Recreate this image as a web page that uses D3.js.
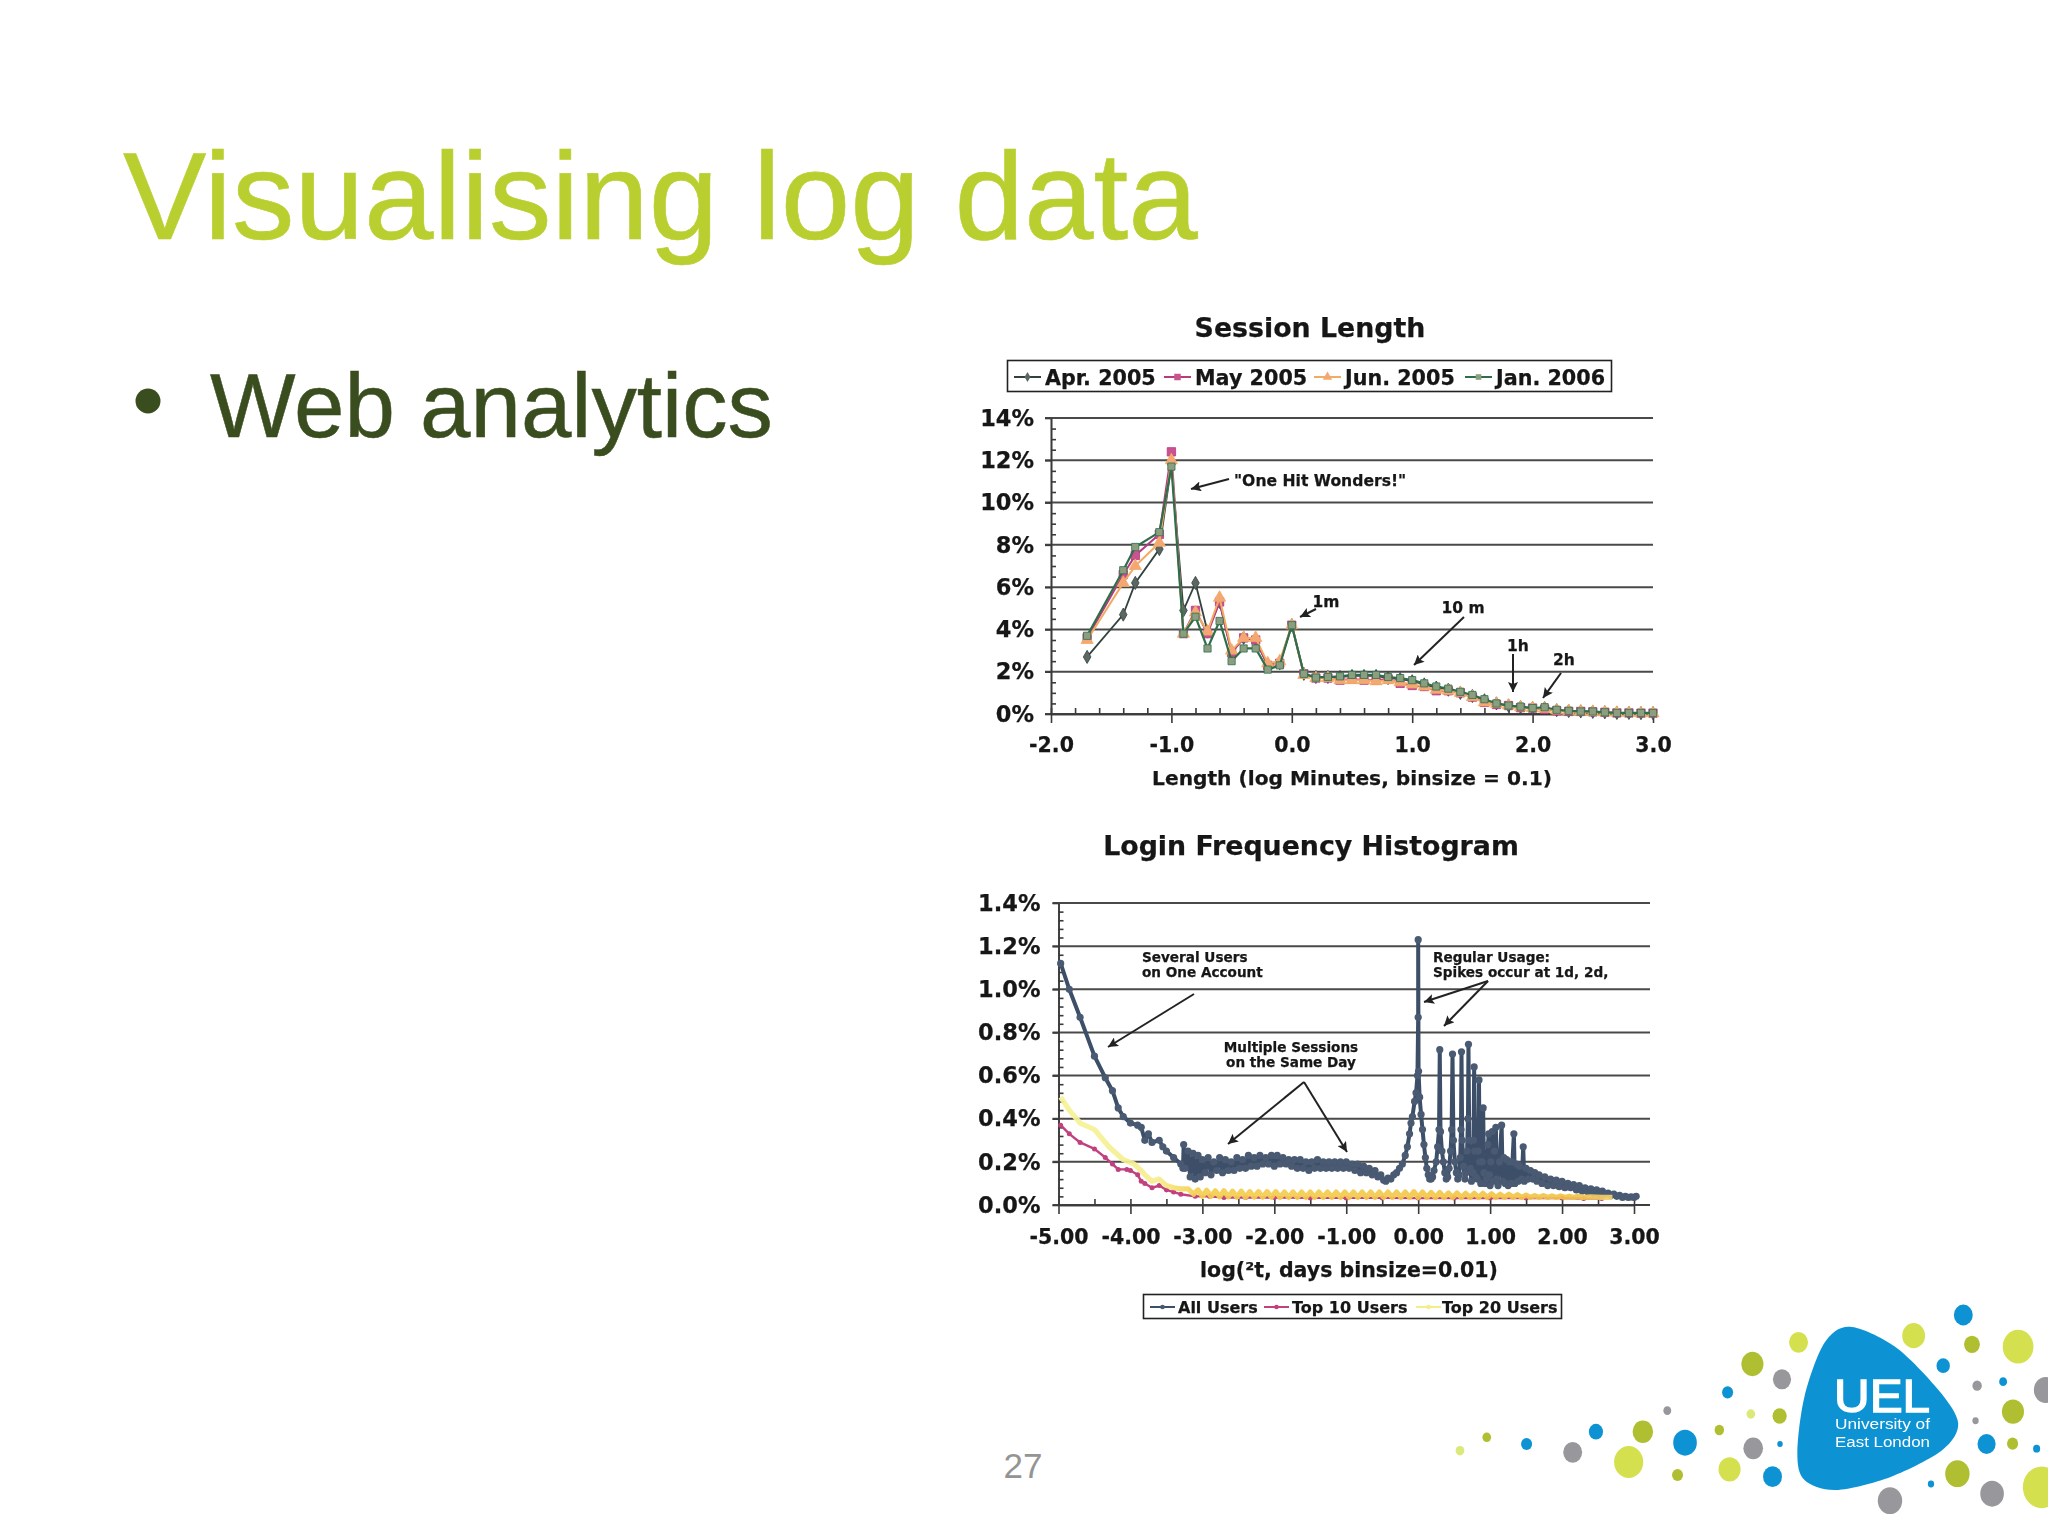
<!DOCTYPE html>
<html><head><meta charset="utf-8">
<script src="https://cdn.jsdelivr.net/npm/d3@7"></script>
<style>html,body{margin:0;padding:0;background:#fff}svg{display:block}</style>
</head><body>
<svg id="s" width="2048" height="1536"></svg>
<script>
// ---------- Session Length data ----------
const sessionBins=[-1.7,-1.4,-1.3,-1.1,-1.0,-0.9,-0.8,-0.7,-0.6,-0.5,-0.4,-0.3,-0.2,-0.1,0,0.1,0.2,0.3,0.4,0.5,0.6,0.7,0.8,0.9,1.0,1.1,1.2,1.3,1.4,1.5,1.6,1.7,1.8,1.9,2.0,2.1,2.2,2.3,2.4,2.5,2.6,2.7,2.8,2.9,3.0];
const apr2005=[2.7,4.7,6.2,7.8,11.8,4.9,6.2,3.9,5.3,2.9,3.6,3.5,2.3,2.4,4.2,1.9,1.75,1.75,1.75,1.8,1.8,1.8,1.7,1.65,1.55,1.4,1.25,1.15,1.0,.85,.65,.5,.4,.33,.28,.28,.18,.14,.12,.1,.08,.05,.05,.04,.04];
const may2005=[3.6,6.6,7.5,8.5,12.4,3.8,4.9,3.8,5.3,2.9,3.6,3.5,2.3,2.4,4.2,1.9,1.7,1.7,1.6,1.65,1.6,1.6,1.65,1.45,1.35,1.3,1.1,1.1,1.0,.8,.55,.45,.4,.3,.28,.22,.15,.12,.12,.1,.08,.05,.05,.04,.04];
const jun2005=[3.5,6.2,7.0,8.1,12.0,3.8,4.8,3.9,5.5,3.0,3.6,3.6,2.4,2.5,4.2,1.85,1.7,1.7,1.6,1.6,1.6,1.55,1.6,1.5,1.4,1.3,1.15,1.1,1.0,.8,.55,.48,.4,.32,.28,.25,.17,.14,.12,.1,.08,.06,.05,.04,.04];
const jan2006=[3.7,6.8,7.9,8.6,11.7,3.8,4.6,3.1,4.4,2.5,3.1,3.1,2.1,2.3,4.2,1.9,1.72,1.75,1.78,1.85,1.85,1.85,1.75,1.7,1.6,1.45,1.3,1.2,1.05,.9,.7,.5,.4,.35,.28,.32,.2,.15,.12,.12,.08,.05,.05,.05,.05];
const sessionYTicks=[0,2,4,6,8,10,12,14];
const sessionYMinor=[.5,1,1.5,2.5,3,3.5,4.5,5,5.5,6.5,7,7.5,8.5,9,9.5,10.5,11,11.5,12.5,13,13.5];
const sessionXTicks=[-2,-1,0,1,2,3];
const sessionXMinor=[-1.8,-1.6,-1.4,-1.2,-0.8,-0.6,-0.4,-0.2,0.2,0.4,0.6,0.8,1.2,1.4,1.6,1.8,2.2,2.4,2.6,2.8];
const sessionNames=["Apr. 2005","May 2005","Jun. 2005","Jan. 2006"];
// ---------- Login Frequency data ----------
const allUsers=[[-4.97,1.12],[-4.85,1.0],[-4.7,.87],[-4.5,.69],[-4.35,.59],[-4.25,.53],[-4.17,.45],[-4.1,.41],[-4.0,.38],[-3.9,.37],[-3.85,.36],[-3.8,.30],[-3.75,.33],[-3.7,.29],[-3.6,.30],[-3.55,.27],[-3.5,.25],[-3.4,.22],[-3.3,.19],[-3.27,.17],[-3.26,.28],[-3.24,.17],[-3.2,.25],[-3.17,.13],[-3.13,.24],[-3.1,.12],[-3.06,.23],[-3.03,.13],[-3.0,.21],[-2.96,.15],[-2.92,.22],[-2.88,.14],[-2.84,.20],[-2.8,.16],[-2.76,.22],[-2.72,.15],[-2.68,.21],[-2.64,.16],[-2.6,.20],[-2.56,.16],[-2.52,.22],[-2.48,.17],[-2.44,.21],[-2.4,.17],[-2.36,.23],[-2.32,.18],[-2.28,.22],[-2.24,.18],[-2.2,.23],[-2.16,.19],[-2.12,.22],[-2.08,.19],[-2.04,.23],[-2.0,.18],[-1.96,.23],[-1.92,.19],[-1.88,.22],[-1.84,.19],[-1.8,.21],[-1.76,.18],[-1.72,.21],[-1.68,.17],[-1.64,.21],[-1.6,.17],[-1.56,.20],[-1.52,.16],[-1.48,.20],[-1.44,.17],[-1.4,.21],[-1.36,.17],[-1.32,.20],[-1.28,.17],[-1.24,.20],[-1.2,.17],[-1.16,.20],[-1.12,.17],[-1.08,.20],[-1.04,.17],[-1.0,.20],[-.96,.17],[-.92,.19],[-.88,.16],[-.84,.19],[-.8,.15],[-.76,.18],[-.72,.15],[-.68,.17],[-.64,.14],[-.6,.16],[-.56,.13],[-.52,.14],[-.48,.115],[-.45,.11],[-.42,.125],[-.38,.12],[-.34,.14],[-.3,.15],[-.26,.17],[-.22,.19],[-.18,.23],[-.15,.27],[-.12,.33],[-.1,.38],[-.08,.41],[-.05,.48],[-.03,.52],[-.01,.60],[0,.87],[0,1.23],[.005,.62],[.02,.5],[.04,.42],[.06,.35],[.08,.28],[.1,.22],[.12,.17],[.14,.14],[.16,.12],[.18,.12],[.2,.13],[.22,.16],[.25,.2],[.27,.27],[.29,.35],[.30,.72],[.31,.34],[.33,.25],[.35,.2],[.37,.15],[.39,.12],[.41,.13],[.43,.17],[.45,.25],[.465,.35],[.477,.70],[.49,.3],[.51,.2],[.53,.15],[.55,.12],[.57,.14],[.585,.22],[.595,.35],[.602,.71],[.612,.3],[.63,.18],[.65,.12],[.665,.15],[.68,.25],[.692,.4],[.699,.745],[.71,.3],[.725,.17],[.74,.11],[.76,.15],[.77,.3],[.778,.64],[.787,.25],[.80,.13],[.82,.12],[.835,.25],[.845,.58],[.855,.2],[.87,.1],[.89,.2],[.903,.45],[.915,.15],[.93,.1],[.95,.12],[.97,.28],[.98,.33],[.99,.14],[1.0,.09],[1.01,.2],[1.03,.34],[1.045,.11],[1.06,.25],[1.08,.36],[1.09,.12],[1.11,.09],[1.13,.2],[1.16,.37],[1.175,.11],[1.19,.22],[1.21,.1],[1.23,.21],[1.25,.09],[1.27,.2],[1.29,.1],[1.31,.2],[1.33,.33],[1.345,.1],[1.37,.19],[1.39,.11],[1.41,.18],[1.44,.12],[1.46,.27],[1.475,.11],[1.5,.17],[1.53,.12],[1.56,.16],[1.59,.12],[1.62,.15],[1.65,.11],[1.68,.14],[1.72,.10],[1.76,.13],[1.8,.09],[1.84,.12],[1.88,.09],[1.92,.115],[1.96,.085],[2.0,.11],[2.04,.08],[2.08,.10],[2.12,.08],[2.16,.095],[2.2,.07],[2.24,.09],[2.28,.065],[2.32,.08],[2.36,.06],[2.4,.075],[2.44,.055],[2.48,.07],[2.52,.05],[2.56,.065],[2.6,.05],[2.64,.055],[2.68,.045],[2.72,.05],[2.76,.04],[2.8,.045],[2.84,.035],[2.88,.04],[2.92,.035],[2.96,.038],[3.0,.035],[3.03,.04]];
const top10Users=[[-4.97,.37],[-4.85,.33],[-4.7,.29],[-4.5,.26],[-4.35,.22],[-4.25,.19],[-4.17,.165],[-4.05,.165],[-4,.16],[-3.9,.14],[-3.85,.11],[-3.8,.10],[-3.7,.08],[-3.6,.09],[-3.5,.07],[-3.4,.06],[-3.3,.05],[-3.1,.04],[-2.9,.04],[-2.7,.035],[-2.4,.035],[-2.0,.035],[-1.5,.033],[-1.0,.033],[-.5,.033],[0,.032],[.5,.032],[1,.032],[1.5,.032],[2,.032],[2.3,.03],[2.55,.03]];
const top20Users=[[-4.97,.5],[-4.85,.44],[-4.7,.38],[-4.5,.35],[-4.3,.27],[-4.1,.21],[-3.95,.19],[-3.85,.16],[-3.8,.14],[-3.7,.11],[-3.6,.12],[-3.5,.09],[-3.4,.08],[-3.3,.075],[-3.2,.075],[-3.12,.05],[-3.06,.07],[-3,.04],[-2.94,.068],[-2.88,.04],[-2.82,.066],[-2.76,.038],[-2.7,.066],[-2.64,.038],[-2.58,.064],[-2.52,.036],[-2.46,.064],[-2.4,.036],[-2.34,.062],[-2.28,.036],[-2.22,.062],[-2.16,.036],[-2.1,.062],[-2.04,.036],[-1.98,.062],[-1.92,.035],[-1.86,.06],[-1.8,.035],[-1.74,.06],[-1.68,.035],[-1.62,.06],[-1.56,.035],[-1.5,.06],[-1.44,.035],[-1.38,.06],[-1.32,.035],[-1.26,.06],[-1.2,.035],[-1.14,.06],[-1.08,.035],[-1.02,.06],[-.96,.035],[-.9,.06],[-.84,.035],[-.78,.06],[-.72,.035],[-.66,.06],[-.6,.035],[-.54,.06],[-.48,.035],[-.42,.06],[-.36,.035],[-.3,.06],[-.24,.035],[-.18,.06],[-.12,.035],[-.06,.062],[0,.035],[.06,.06],[.12,.035],[.18,.058],[.24,.035],[.3,.058],[.36,.035],[.42,.056],[.48,.035],[.54,.056],[.6,.035],[.66,.054],[.72,.035],[.78,.054],[.84,.035],[.9,.054],[.96,.035],[1.02,.052],[1.08,.035],[1.14,.05],[1.2,.035],[1.26,.05],[1.32,.035],[1.38,.048],[1.44,.035],[1.5,.046],[1.56,.035],[1.62,.044],[1.68,.035],[1.74,.044],[1.8,.035],[1.86,.042],[1.92,.035],[1.98,.042],[2.04,.035],[2.1,.04],[2.16,.035],[2.22,.04],[2.28,.035],[2.4,.038],[2.55,.035],[2.7,.035]];
const loginYTicks=[0,.2,.4,.6,.8,1,1.2,1.4];
const loginYMinor=[.04,.08,.12,.16,.24,.28,.32,.36,.44,.48,.52,.56,.64,.68,.72,.76,.84,.88,.92,.96,1.04,1.08,1.12,1.16,1.24,1.28,1.32,1.36];
const loginXTicks=[-5,-4,-3,-2,-1,0,1,2,3];
const loginXMinor=[-4.5,-3.5,-2.5,-1.5,-.5,.5,1.5,2.5];
const loginNames=["All Users","Top 10 Users","Top 20 Users"];

const FONT='"DejaVu Sans",Verdana,sans-serif', SANS='"Liberation Sans",Arial,sans-serif';
const TXT='#161616', GRID='#4a4a4a';
const svg=d3.select('#s');
svg.append('rect').attr('width',2048).attr('height',1536).attr('fill','#fff');
const defs=svg.append('defs');
defs.append('filter').attr('id','soft').attr('x','-5%').attr('y','-5%').attr('width','110%').attr('height','110%')
  .append('feGaussianBlur').attr('stdDeviation',.7);
defs.append('filter').attr('id','softer').attr('x','-5%').attr('y','-5%').attr('width','110%').attr('height','110%')
  .append('feGaussianBlur').attr('stdDeviation',.4);
const mk=defs.append('marker').attr('id','arrow').attr('viewBox','0 0 10 10').attr('refX',10).attr('refY',5)
  .attr('markerWidth',14).attr('markerHeight',10).attr('markerUnits','userSpaceOnUse').attr('orient','auto');
mk.append('path').attr('d','M0,0L10,5L0,10L2,5Z').attr('fill','#222');
const grad=defs.append('linearGradient').attr('id','top20').attr('gradientUnits','userSpaceOnUse').attr('x1',1058).attr('x2',1634).attr('y1',0).attr('y2',0);
[[0,'#f6f398'],[.17,'#f6ee90'],[.24,'#f4cf50'],[.9,'#f2c448'],[1,'#f0d98a']].forEach(d=>grad.append('stop').attr('offset',d[0]).attr('stop-color',d[1]));

// ---------- Slide text ----------
svg.append('text').attr('x',123).attr('y',239).attr('font-family',SANS).attr('font-size',125).attr('fill','#b9cf30').attr('stroke','#b9cf30').attr('stroke-width',.6).text('Visualising log data');
svg.append('text').attr('x',210).attr('y',437).attr('font-family',SANS).attr('font-size',90.7).attr('fill','#3a4d1f').attr('stroke','#3a4d1f').attr('stroke-width',.5).text('Web analytics');
svg.append('circle').attr('cx',148).attr('cy',401).attr('r',12.5).attr('fill','#3a4d1f');
svg.append('text').attr('x',1023).attr('y',1478).attr('text-anchor','middle').attr('font-family',SANS).attr('font-size',35).attr('fill','#949494').text('27');

const chart=svg.append('g').attr('filter','url(#soft)');
function label(g,x,y,t,size,anchor){return g.append('text').attr('x',x).attr('y',y).attr('font-family',FONT).attr('font-weight','bold').attr('font-size',size).attr('fill',TXT).attr('stroke',TXT).attr('stroke-width',.25).attr('text-anchor',anchor||'start').text(t);}
function arrow(g,a){g.append('line').attr('x1',a[0]).attr('y1',a[1]).attr('x2',a[2]).attr('y2',a[3]).attr('stroke','#222').attr('stroke-width',2).attr('marker-end','url(#arrow)');}

function axes(g,x,y,o){
  const [x0,x1]=x.range(), [y0,y1]=y.range();
  const grid=g.append('g');
  grid.selectAll('line').data(o.yTicks).join('line').attr('x1',x0-6).attr('x2',o.gridEnd).attr('y1',d=>y(d)).attr('y2',d=>y(d)).attr('stroke',GRID).attr('stroke-width',2);
  const st=a=>{a.selectAll('path,line').attr('stroke','#3a3a3a').attr('stroke-width',1.6);a.selectAll('text').attr('font-family',FONT).attr('font-weight','bold').attr('fill',TXT).attr('stroke',TXT).attr('stroke-width',.25);};
  const yl=g.append('g').attr('transform',`translate(${x0},0)`).call(d3.axisLeft(y).tickValues(o.yTicks).tickSize(6).tickSizeOuter(0).tickPadding(o.yPad).tickFormat(o.yFmt)).call(st);
  yl.selectAll('text').attr('font-size',o.yTickSize);
  g.append('g').attr('transform',`translate(${x0},0)`).call(d3.axisRight(y).tickValues(o.yMinor).tickSize(5).tickSizeOuter(0).tickFormat('')).call(st);
  const xl=g.append('g').attr('transform',`translate(0,${y0})`).call(d3.axisBottom(x).tickValues(o.xTicks).tickSize(9).tickSizeOuter(0).tickPadding(o.xPad).tickFormat(o.xFmt)).call(st);
  xl.selectAll('text').attr('font-size',o.xTickSize);
  g.append('g').attr('transform',`translate(0,${y0})`).call(d3.axisTop(x).tickValues(o.xTicks.concat(o.xMinor)).tickSize(6).tickSizeOuter(0).tickFormat('')).call(st);
  g.append('line').attr('x1',x1).attr('x2',o.gridEnd).attr('y1',y0).attr('y2',y0).attr('stroke','#3a3a3a').attr('stroke-width',1.6);
}
const hy=(f)=>d=>f(d).replace('\u2212','-');

// ---------- Session Length ----------
{
  const x=d3.scaleLinear().domain([-2,3]).range([1051,1653]);
  const y=d3.scaleLinear().domain([0,14]).range([714,418]);
  const g=chart.append('g');
  label(g,1310,337,'Session Length',26.8,'middle');
  axes(g,x,y,{yTicks:sessionYTicks,yMinor:sessionYMinor,xTicks:sessionXTicks,xMinor:sessionXMinor,gridEnd:1653,yPad:11,xPad:14,yTickSize:22.5,xTickSize:20.5,yFmt:d=>d+'%',xFmt:hy(d3.format('.1f'))});
  label(g,1352,785,'Length (log Minutes, binsize = 0.1)',20.2,'middle');
  const series=[
    {v:apr2005,c:'#33423f',m:'#5b6662',s:d3.symbolDiamond,a:50,w:1.8},
    {v:may2005,c:'#b83a80',m:'#c9528f',s:d3.symbolSquare,a:70,w:2},
    {v:jun2005,c:'#f2ab63',m:'#f3a873',s:d3.symbolTriangle,a:64,w:2},
    {v:jan2006,c:'#2f6e4c',m:'#8b9f80',s:d3.symbolSquare,a:52,w:2.2}];
  const line=d3.line().x((d,i)=>x(sessionBins[i])).y(d=>y(d));
  series.forEach(s=>{
    g.append('path').attr('d',line(s.v)).attr('fill','none').attr('stroke',s.c).attr('stroke-width',s.w);
    g.append('g').selectAll('path').data(s.v).join('path')
      .attr('transform',(d,i)=>`translate(${x(sessionBins[i])},${y(d)})`)
      .attr('d',d3.symbol().type(s.s).size(s.a)).attr('fill',s.m).attr('stroke',s.c).attr('stroke-width',.8);
  });
  g.append('rect').attr('x',1007.5).attr('y',360.5).attr('width',604).attr('height',31).attr('fill','#fff').attr('stroke','#222').attr('stroke-width',1.6);
  const lx=[1014,1164,1314,1465];
  series.forEach((s,i)=>{
    g.append('line').attr('x1',lx[i]).attr('x2',lx[i]+27).attr('y1',377).attr('y2',377).attr('stroke',s.c).attr('stroke-width',2);
    g.append('path').attr('transform',`translate(${lx[i]+13.5},377)`).attr('d',d3.symbol().type(s.s).size(s.a*.6)).attr('fill',s.m);
    label(g,lx[i]+31,384.5,sessionNames[i],20.7);
  });
  label(g,1234,486,'"One Hit Wonders!"',15.6);
  arrow(g,[1229,479,1191,489]);
  label(g,1326,607,'1m',15.5,'middle');
  arrow(g,[1316,609,1300,617]);
  label(g,1463,613,'10 m',15.5,'middle');
  arrow(g,[1464,617,1414,665]);
  label(g,1518,651,'1h',15.5,'middle');
  arrow(g,[1513,654,1513,692]);
  label(g,1564,665,'2h',15.5,'middle');
  arrow(g,[1561,673,1543,698]);
}

// ---------- Login Frequency ----------
{
  const x=d3.scaleLinear().domain([-5,3]).range([1058.5,1634]);
  const y=d3.scaleLinear().domain([0,1.4]).range([1205,903]);
  const g=chart.append('g');
  label(g,1311,855,'Login Frequency Histogram',26.8,'middle');
  axes(g,x,y,{yTicks:loginYTicks,yMinor:loginYMinor,xTicks:loginXTicks,xMinor:loginXMinor,gridEnd:1650,yPad:12,xPad:15,yTickSize:22.5,xTickSize:20.5,yFmt:d=>d.toFixed(1)+'%',xFmt:hy(d3.format('.2f'))});
  label(g,1349,1277,'log(²t, days binsize=0.01)',20.5,'middle');
  const line=d3.line().x(d=>x(d[0])).y(d=>y(d[1]));
  const series=[
    {v:allUsers,c:'#3d4f68',m:'#485a72',r:3.6,w:4,o:1},
    {v:top10Users,c:'#c2407e',m:'#c2407e',r:2.5,w:2.4,o:1},
    {v:top20Users,c:'url(#top20)',m:'none',r:0,w:5.2,o:.92}];
  series.forEach(s=>{
    g.append('path').attr('d',line(s.v)).attr('fill','none').attr('stroke',s.c).attr('stroke-width',s.w).attr('opacity',s.o).attr('stroke-linejoin','round');
    g.append('g').selectAll('circle').data(s.v).join('circle').attr('cx',d=>x(d[0])).attr('cy',d=>y(d[1])).attr('r',s.r).attr('fill',s.m);
  });
  g.append('rect').attr('x',1143.5).attr('y',1294.5).attr('width',418).attr('height',24).attr('fill','#fff').attr('stroke','#222').attr('stroke-width',1.6);
  const lx=[1150,1264,1416], tx=[1178,1292,1442];
  series.forEach((s,i)=>{
    g.append('line').attr('x1',lx[i]).attr('x2',lx[i]+25).attr('y1',1307).attr('y2',1307).attr('stroke',i==2?'#f3ee8a':s.c).attr('stroke-width',2);
    g.append('circle').attr('cx',lx[i]+12.5).attr('cy',1307).attr('r',2.3).attr('fill',i==2?'#f3ee8a':s.m);
    label(g,tx[i],1312.5,loginNames[i],16);
  });
  label(g,1142,962,'Several Users',13.6); label(g,1142,977,'on One Account',13.6);
  arrow(g,[1194,994,1108,1047]);
  label(g,1433,962,'Regular Usage:',13.6); label(g,1433,977,'Spikes occur at 1d, 2d,',13.6);
  arrow(g,[1488,981,1424,1002]); arrow(g,[1488,981,1444,1026]);
  label(g,1291,1052,'Multiple Sessions',13.6,'middle'); label(g,1291,1067,'on the Same Day',13.6,'middle');
  arrow(g,[1304,1082,1228,1144]); arrow(g,[1304,1082,1347,1152]);
}

// ---------- UEL logo ----------
const BLUE='#0b93d3',LIME='#d5e050',OLIVE='#b0bf30',GRAY='#98989c',PALE='#dbe87a';
const logoDots=[[1353,105,24,BLUE],[1227,167,29,LIME],[1375,193,20,OLIVE],[1492,200,39,LIME],[935,187,24,LIME],[1302,257,17,BLUE],[818,252,28,OLIVE],[893,298,23,GRAY],[1388,317,12,GRAY],[1454,305,10,BLUE],[1562,330,30,GRAY],[755,337,14,BLUE],[1479,395,28,OLIVE],[814,402,11,PALE],[887,408,18,OLIVE],[602,392,10,GRAY],[1384,422,8,GRAY],[734,450,12,OLIVE],[540,455,26,OLIVE],[421,455,18,BLUE],[647,488,30,BLUE],[144,472,11,OLIVE],[76,512,11,PALE],[245,492,14,BLUE],[362,517,24,GRAY],[888,492,7,BLUE],[820,505,25,GRAY],[1412,492,23,BLUE],[1478,491,14,OLIVE],[1539,506,9,BLUE],[504,546,37,LIME],[760,568,28,LIME],[628,585,14,OLIVE],[869,590,24,BLUE],[1338,581,31,OLIVE],[1271,612,8,BLUE],[1426,641,30,GRAY],[1167,662,31,GRAY],[1552,622,48,LIME]];
const blobOutline=[[1065,140],[1180,200],[1290,330],[1340,430],[1300,510],[1170,590],[1030,630],[950,600],[932,520],[950,350],[1000,190]];
const lgX=d3.scaleLinear().domain([0,618*2.537]).range([1430,2048]);
const lgY=d3.scaleLinear().domain([0,768]).range([1280,1536]);
const logo=svg.append('g').attr('filter','url(#softer)');
logo.selectAll('ellipse').data(logoDots).join('ellipse').attr('cx',d=>lgX(d[0])).attr('cy',d=>lgY(d[1])).attr('rx',d=>d[2]/2.537).attr('ry',d=>d[2]/2.537*1.1).attr('fill',d=>d[3]);
logo.append('path').attr('d',d3.line().x(d=>lgX(d[0])).y(d=>lgY(d[1])).curve(d3.curveCardinalClosed.tension(.1))(blobOutline)).attr('fill',BLUE);
logo.append('text').attr('x',1834).attr('y',1412).attr('font-family',SANS).attr('font-size',46).attr('fill','#fff').attr('stroke','#fff').attr('stroke-width',1.4).attr('textLength',96).attr('lengthAdjust','spacingAndGlyphs').text('UEL');
logo.append('text').attr('x',1835).attr('y',1429).attr('font-family',SANS).attr('font-size',15.5).attr('fill','#fff').attr('textLength',95).attr('lengthAdjust','spacingAndGlyphs').text('University of');
logo.append('text').attr('x',1835).attr('y',1447).attr('font-family',SANS).attr('font-size',15.5).attr('fill','#fff').attr('textLength',95).attr('lengthAdjust','spacingAndGlyphs').text('East London');
</script>
</body></html>
